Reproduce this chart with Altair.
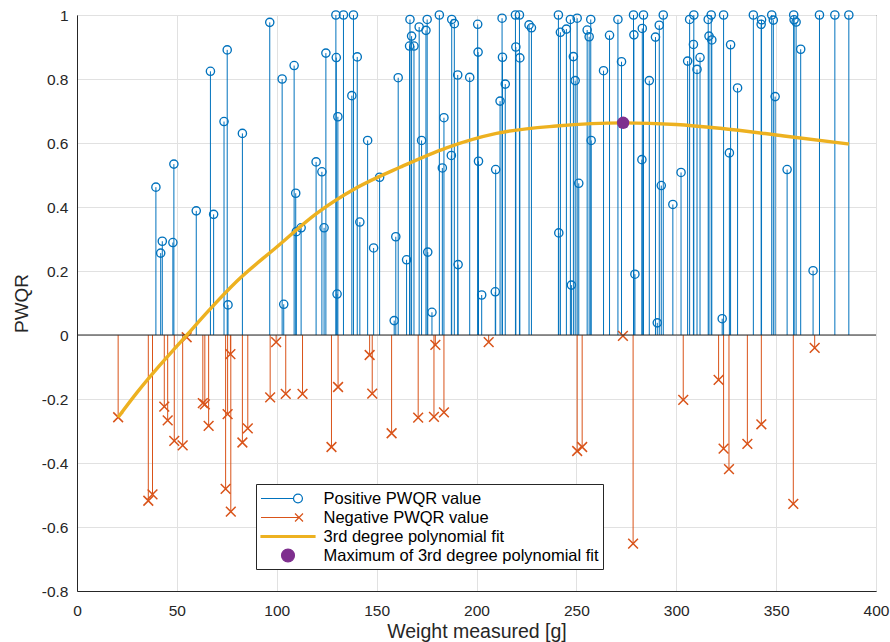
import altair as alt
import pandas as pd

# ---------------- data ----------------
pos_x = [39.5, 41.9, 42.7, 48.0, 48.5, 59.7, 66.8, 68.4, 73.6, 75.2, 75.6, 82.8,
         96.5, 102.7, 103.5, 108.7, 109.5, 109.8, 112.2, 119.7, 122.6, 123.7, 124.6,
         129.6, 129.8, 130.2, 130.6, 133.4, 137.6, 138.4, 140.3, 141.6, 145.5, 148.5,
         151.5, 158.8, 159.6, 160.8, 165.0, 166.5, 166.7, 167.5, 168.7, 171.3, 172.5,
         174.7, 175.3, 175.6, 177.7, 181.4, 182.9, 183.7, 187.4, 187.6, 188.9, 190.6,
         190.8, 196.6, 200.6, 200.8, 201.0, 202.6, 209.4, 209.6, 211.8, 212.8, 213.0,
         214.4, 219.5, 219.7, 221.5, 221.7, 226.3, 227.5, 241.0, 241.2, 242.0, 245.0,
         247.0, 247.5, 248.5, 249.4, 250.4, 251.2, 255.4, 256.4, 257.2, 257.4, 263.6,
         266.6, 270.8, 272.6, 278.6, 278.8, 279.3, 282.8, 283.0, 283.6, 286.5, 289.6,
         290.5, 291.5, 292.5, 293.5, 298.3, 302.4, 305.7, 306.7, 308.6, 308.8, 310.4,
         311.9, 316.0, 316.4, 317.5, 317.8, 323.0, 323.7, 326.6, 327.2, 330.7, 338.6,
         342.5, 342.7, 347.8, 348.6, 349.5, 355.5, 358.8, 359.0, 360.0, 362.3, 368.5,
         371.7, 379.4, 386.4]
pos_y = [0.462, 0.256, 0.293, 0.289, 0.534, 0.388, 0.824, 0.377, 0.667, 0.891, 0.094, 0.630,
         0.977, 0.800, 0.096, 0.842, 0.443, 0.323, 0.335, 0.541, 0.510, 0.335, 0.881,
         1.0, 0.867, 0.128, 0.682, 1.0, 0.748, 1.0, 0.869, 0.353, 0.608, 0.272,
         0.493, 0.045, 0.307, 0.804, 0.235, 0.903, 0.986, 0.934, 0.903, 0.9625, 0.608,
         0.952, 0.986, 0.259, 0.071, 1.0, 0.522, 0.679, 0.561, 0.986, 0.973, 0.8125,
         0.220, 0.805, 0.971, 0.884, 0.543, 0.125, 0.135, 0.517, 0.731, 0.990, 0.868,
         0.784, 1.0, 0.900, 1.0, 0.866, 0.969, 0.960, 1.0, 0.319, 0.946, 0.956,
         0.986, 0.156, 0.870, 0.795, 0.990, 0.474, 0.953, 0.932, 0.986, 0.608, 0.826,
         0.9365, 0.986, 0.854, 1.0, 0.938, 0.190, 0.548, 0.958, 1.0, 0.795, 0.931,
         0.038, 0.968, 0.467, 1.0, 0.408, 0.508, 0.856, 0.986, 0.908, 1.0, 0.830,
         0.867, 0.986, 0.934, 1.0, 0.922, 0.051, 1.0, 0.569, 0.907, 0.772, 1.0,
         0.971, 0.985, 1.0, 0.984, 0.745, 0.517, 1.0, 0.985, 0.978, 0.893, 0.201,
         1.0, 1.0, 1.0]

neg_x = [20.6, 35.7, 37.8, 43.7, 45.4, 48.7, 52.9, 54.9, 63.0, 64.0, 65.9, 74.4, 75.4,
         76.8, 77.0, 82.8, 85.5, 96.7, 99.7, 104.5, 112.9, 127.4, 130.7, 146.5, 147.8,
         157.5, 170.8, 178.7, 179.4, 183.7, 206.1, 250.4, 252.9, 273.3, 278.4, 303.5,
         321.2, 323.7, 326.4, 335.6, 342.6, 358.6, 369.3]
neg_y = [-0.257, -0.518, -0.498, -0.224, -0.267, -0.331, -0.345, -0.007, -0.213, -0.217,
         -0.284, -0.481, -0.247, -0.060, -0.552, -0.336, -0.292, -0.195, -0.022, -0.184,
         -0.184, -0.350, -0.1625, -0.0625, -0.183, -0.307, -0.258, -0.256, -0.031, -0.242,
         -0.022, -0.3625, -0.350, -0.003, -0.652, -0.203, -0.140, -0.355, -0.419, -0.340,
         -0.279, -0.528, -0.040]

fit_x = [20.6, 30, 40, 50, 55, 65, 80, 100, 120, 140, 162, 185, 210, 240, 273.4, 300, 322, 354, 386.4]
fit_y = [-0.257, -0.18, -0.105, -0.035, 0.0, 0.07, 0.168, 0.275, 0.38, 0.46, 0.525, 0.585,
         0.630, 0.653, 0.663, 0.658, 0.646, 0.622, 0.597]

max_x = [273.4]
max_y = [0.663]

baseline_y = [0]

x_ticks = [0, 50, 100, 150, 200, 250, 300, 350, 400]
y_ticks = [-0.8, -0.6, -0.4, -0.2, 0, 0.2, 0.4, 0.6, 0.8, 1]

legend_labels = ["Positive PWQR value", "Negative PWQR value",
                 "3rd degree polynomial fit", "Maximum of 3rd degree polynomial fit"]

# ---------------- styles ----------------
BLUE = "#0072BD"
ORANGE = "#D95319"
YELLOW = "#EDB120"
PURPLE = "#7E2F8E"
AX = "#262626"
FONT = "Liberation Sans"

X_PATH = "M-1,-1L1,1M-1,1L1,-1"
LEG_POS = "M-2.84,0L0.58,0M1.52,0A0.47,0.47 0 1,1 0.58,0A0.47,0.47 0 1,1 1.52,0"
LEG_NEG = "M-2.84,0L1.16,0M0.74,-0.42L1.58,0.42M0.74,0.42L1.58,-0.42"
LEG_FIT = "M-2.84,-0.1L2.84,-0.1L2.84,0.1L-2.84,0.1Z"
LEG_MAX = "M0.68,0A0.68,0.68 0 1,1 -0.68,0A0.68,0.68 0 1,1 0.68,0Z"

pos = pd.DataFrame({"x": pos_x, "y": pos_y})
neg = pd.DataFrame({"x": neg_x, "y": neg_y})
fit = pd.DataFrame({"x": fit_x, "y": fit_y})
mx = pd.DataFrame({"x": max_x, "y": max_y})
base = pd.DataFrame({"y": baseline_y})
leg = pd.DataFrame({"series": legend_labels})

xscale = alt.Scale(domain=[0, 400], nice=False, zero=False)
yscale = alt.Scale(domain=[-0.8, 1], nice=False, zero=False)

xaxis = alt.Axis(values=x_ticks, title="Weight measured [g]", grid=True, ticks=False,
                 labelPadding=12, labelFontSize=15.5, labelFont=FONT, labelColor=AX,
                 titleFont=FONT, titleFontSize=19.5, titleFontWeight="normal", titleColor=AX,
                 titleBaseline="alphabetic", titleY=46, domainColor=AX,
                 gridColor="#e1e1e1", labelFlush=False)
yaxis = alt.Axis(values=y_ticks, title="PWQR", grid=True, ticks=False,
                 labelPadding=9, labelFontSize=15.5, labelFont=FONT, labelColor=AX,
                 labelExpr="replace(format(datum.value, '.1~f'), '\u2212', '-')",
                 titleFont=FONT, titleFontSize=19, titleFontWeight="normal", titleColor=AX,
                 titleBaseline="alphabetic", titleX=-50, domainColor=AX,
                 gridColor="#e1e1e1", labelFlush=False)

X = alt.X("x:Q", scale=xscale, axis=xaxis)
Y = alt.Y("y:Q", scale=yscale, axis=yaxis)
Xp = alt.X("x:Q", scale=xscale)
Yp = alt.Y("y:Q", scale=yscale)

stems_pos = alt.Chart(pos).mark_rule(color=BLUE, strokeWidth=1).encode(x=X, y=Y, y2=alt.datum(0))
marks_pos = alt.Chart(pos).mark_point(shape="circle", filled=False, color=BLUE, size=68,
                                      strokeWidth=1.35, opacity=1).encode(x=Xp, y=Yp)
stems_neg = alt.Chart(neg).mark_rule(color=ORANGE, strokeWidth=1).encode(x=Xp, y=Yp, y2=alt.datum(0))
marks_neg = alt.Chart(neg).mark_point(shape=X_PATH, filled=False, color=ORANGE, size=95,
                                      strokeWidth=1.5, opacity=1).encode(x=Xp, y=Yp)
baseline = alt.Chart(base).mark_rule(color=AX, strokeWidth=1).encode(y=Yp)
fit_line = alt.Chart(fit).mark_line(color=YELLOW, strokeWidth=3.4, interpolate="monotone",
                                    strokeCap="butt").encode(x=Xp, y=Yp)
max_pt = alt.Chart(mx).mark_circle(color=PURPLE, size=155, opacity=1).encode(x=Xp, y=Yp)

leg_def = alt.Legend(title=None, orient="none", legendX=179, legendY=469, direction="vertical",
                     symbolSize=361, symbolStrokeWidth=1.2, symbolOffset=17.5, labelOffset=25,
                     labelFont=FONT, labelFontSize=16.5, labelColor="#000000", labelLimit=500,
                     strokeColor=AX, fillColor="white", padding=4, rowPadding=0,
                     symbolOpacity=1, cornerRadius=0)

carrier = alt.Chart(leg).mark_point(filled=True, strokeWidth=1.2).encode(
    stroke=alt.Stroke("series:N", scale=alt.Scale(domain=legend_labels,
                      range=[BLUE, ORANGE, YELLOW, PURPLE]), legend=leg_def),
    fill=alt.Fill("series:N", scale=alt.Scale(domain=legend_labels,
                  range=["transparent", "transparent", YELLOW, PURPLE]), legend=leg_def),
    shape=alt.Shape("series:N", scale=alt.Scale(domain=legend_labels,
                    range=[LEG_POS, LEG_NEG, LEG_FIT, LEG_MAX]), legend=leg_def),
).transform_filter("false")

chart = alt.layer(stems_pos, marks_pos, stems_neg, marks_neg, baseline, fit_line, max_pt, carrier).properties(
    width=799, height=576,
    autosize=alt.AutoSizeParams(type="none"),
    padding={"left": 77, "top": 15, "right": 14, "bottom": 51},
    background="white",
).configure_view(stroke=AX, strokeWidth=1)

chart.save("out.html", embed_options={"renderer": "svg", "actions": False})
